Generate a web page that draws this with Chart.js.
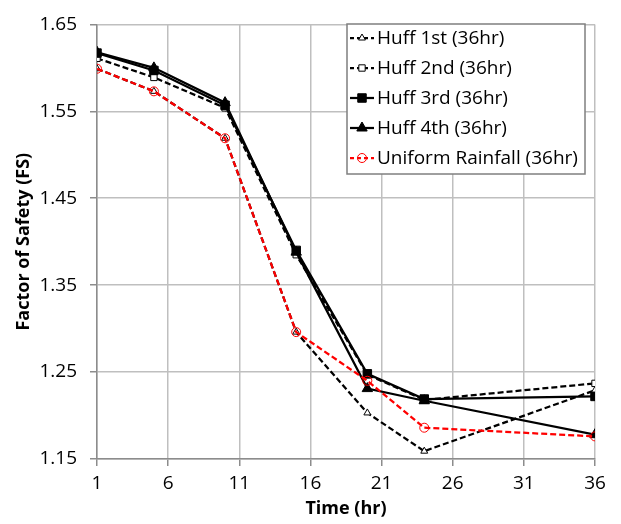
<!DOCTYPE html>
<html>
<head>
<meta charset="utf-8">
<script src="https://cdn.jsdelivr.net/npm/chart.js@4.4.1/dist/chart.umd.min.js"></script>
<style>
  html, body { margin: 0; padding: 0; background: #fff; }
  #wrap { width: 621px; height: 524px; }
</style>
</head>
<body>
<div id="wrap"><canvas id="fs"></canvas></div>
<script>
// time (hr) of each stage
const hours = [1, 5, 10, 15, 20, 24, 36];

// factor of safety per rainfall pattern
const huff1st = [1.599, 1.573, 1.519, 1.296, 1.203, 1.159, 1.229];
const huff2nd = [1.611, 1.589, 1.554, 1.385, 1.247, 1.218, 1.237];
const huff3rd = [1.617, 1.597, 1.557, 1.390, 1.248, 1.219, 1.222];
const huff4th = [1.618, 1.600, 1.560, 1.388, 1.231, 1.217, 1.178];
const uniform = [1.599, 1.573, 1.519, 1.296, 1.240, 1.186, 1.176];

const seriesNames = ['Huff 1st (36hr)', 'Huff 2nd (36hr)', 'Huff 3rd (36hr)', 'Huff 4th (36hr)', 'Uniform Rainfall (36hr)'];

const FONT = "'Open Sans', sans-serif";

function pts(vals) {
    return hours.map((h, i) => ({x: h, y: vals[i]}));
}

// legend drawn inside the plot, like the excel one
const boxLegend = {
    id: 'boxLegend',
    afterDraw(chart) {
        const c = chart.ctx;
        const left = 347, top = 24, w = 238, h = 150;
        c.save();
        c.fillStyle = '#fff';
        c.fillRect(left, top, w, h);
        c.strokeStyle = '#7f7f7f';
        c.lineWidth = 1.5;
        c.strokeRect(left, top, w, h);
        c.font = '19px ' + FONT;
        c.textBaseline = 'middle';
        chart.data.datasets.forEach((ds, i) => {
            const y = 38 + i * 30;
            c.strokeStyle = ds.borderColor;
            c.lineWidth = ds.borderWidth;
            c.setLineDash(ds.borderDash ? [4, 3] : []);
            c.beginPath();
            c.moveTo(350, y);
            c.lineTo(374, y);
            c.stroke();
            c.setLineDash([]);
            c.fillStyle = ds.pointBackgroundColor;
            c.strokeStyle = ds.pointBorderColor;
            c.lineWidth = ds.pointBorderWidth;
            Chart.helpers.drawPoint(c, {
                pointStyle: ds.pointStyle,
                radius: ds.pointRadius,
                borderWidth: ds.pointBorderWidth
            }, 362, y);
            c.fillStyle = '#000';
            c.fillText(ds.label, 377, y + 1);
        });
        c.restore();
    }
};

function line(label, vals, opts) {
    return Object.assign({
        label: label,
        data: pts(vals),
        borderColor: '#000',
        borderWidth: 2.25,
        pointBorderColor: '#000',
        pointBorderWidth: 1,
        tension: 0
    }, opts);
}

new Chart(document.getElementById('fs'), {
    type: 'line',
    data: {
        datasets: [
            line(seriesNames[0], huff1st, {order: 4, borderDash: [6, 3], pointStyle: 'triangle', pointRadius: 4, pointBackgroundColor: '#fff'}),
            line(seriesNames[1], huff2nd, {order: 3, borderDash: [6, 3], pointStyle: 'rect', pointRadius: 4.5, pointBackgroundColor: '#fff'}),
            line(seriesNames[2], huff3rd, {order: 1, pointStyle: 'rect', pointRadius: 6, pointBackgroundColor: '#000'}),
            line(seriesNames[3], huff4th, {order: 2, pointStyle: 'triangle', pointRadius: 6, pointBackgroundColor: '#000'}),
            line(seriesNames[4], uniform, {order: 0, borderColor: '#ff0000', borderDash: [6, 3], pointStyle: 'circle', pointRadius: 4.5,
                pointBackgroundColor: 'rgba(0,0,0,0)', pointBorderColor: '#ff0000'})
        ]
    },
    options: {
        responsive: true,
        maintainAspectRatio: false,
        animation: false,
        layout: { padding: { left: 0, right: 26, top: 15, bottom: 0 } },
        plugins: {
            legend: { display: false },
            tooltip: { enabled: false }
        },
        scales: {
            x: {
                type: 'linear',
                min: 1,
                max: 36,
                ticks: {
                    stepSize: 5,
                    color: '#000',
                    padding: 6,
                    font: { family: FONT, size: 19 }
                },
                grid: { color: '#bfbfbf', lineWidth: 1.5, tickLength: 7, tickColor: '#8c8c8c' },
                border: { color: '#8c8c8c', width: 1.5 },
                title: {
                    display: true,
                    text: 'Time (hr)',
                    color: '#000',
                    font: { family: FONT, size: 18, weight: 'bold' },
                    padding: { top: 0, bottom: 4 }
                },
                afterFit(s) { s.height = 65; }
            },
            y: {
                min: 1.15,
                max: 1.65,
                ticks: {
                    stepSize: 0.1,
                    color: '#000',
                    padding: 13,
                    font: { family: FONT, size: 19 },
                    callback: v => v.toFixed(2)
                },
                grid: { color: '#bfbfbf', lineWidth: 1.5, tickLength: 7, tickColor: '#8c8c8c' },
                border: { color: '#8c8c8c', width: 1.5 },
                title: {
                    display: true,
                    text: 'Factor of Safety (FS)',
                    color: '#000',
                    font: { family: FONT, size: 18, weight: 'bold' },
                    padding: { top: 13, bottom: 0 }
                },
                afterFit(s) { s.width = 97; }
            }
        }
    },
    plugins: [boxLegend]
});
</script>
</body>
</html>
